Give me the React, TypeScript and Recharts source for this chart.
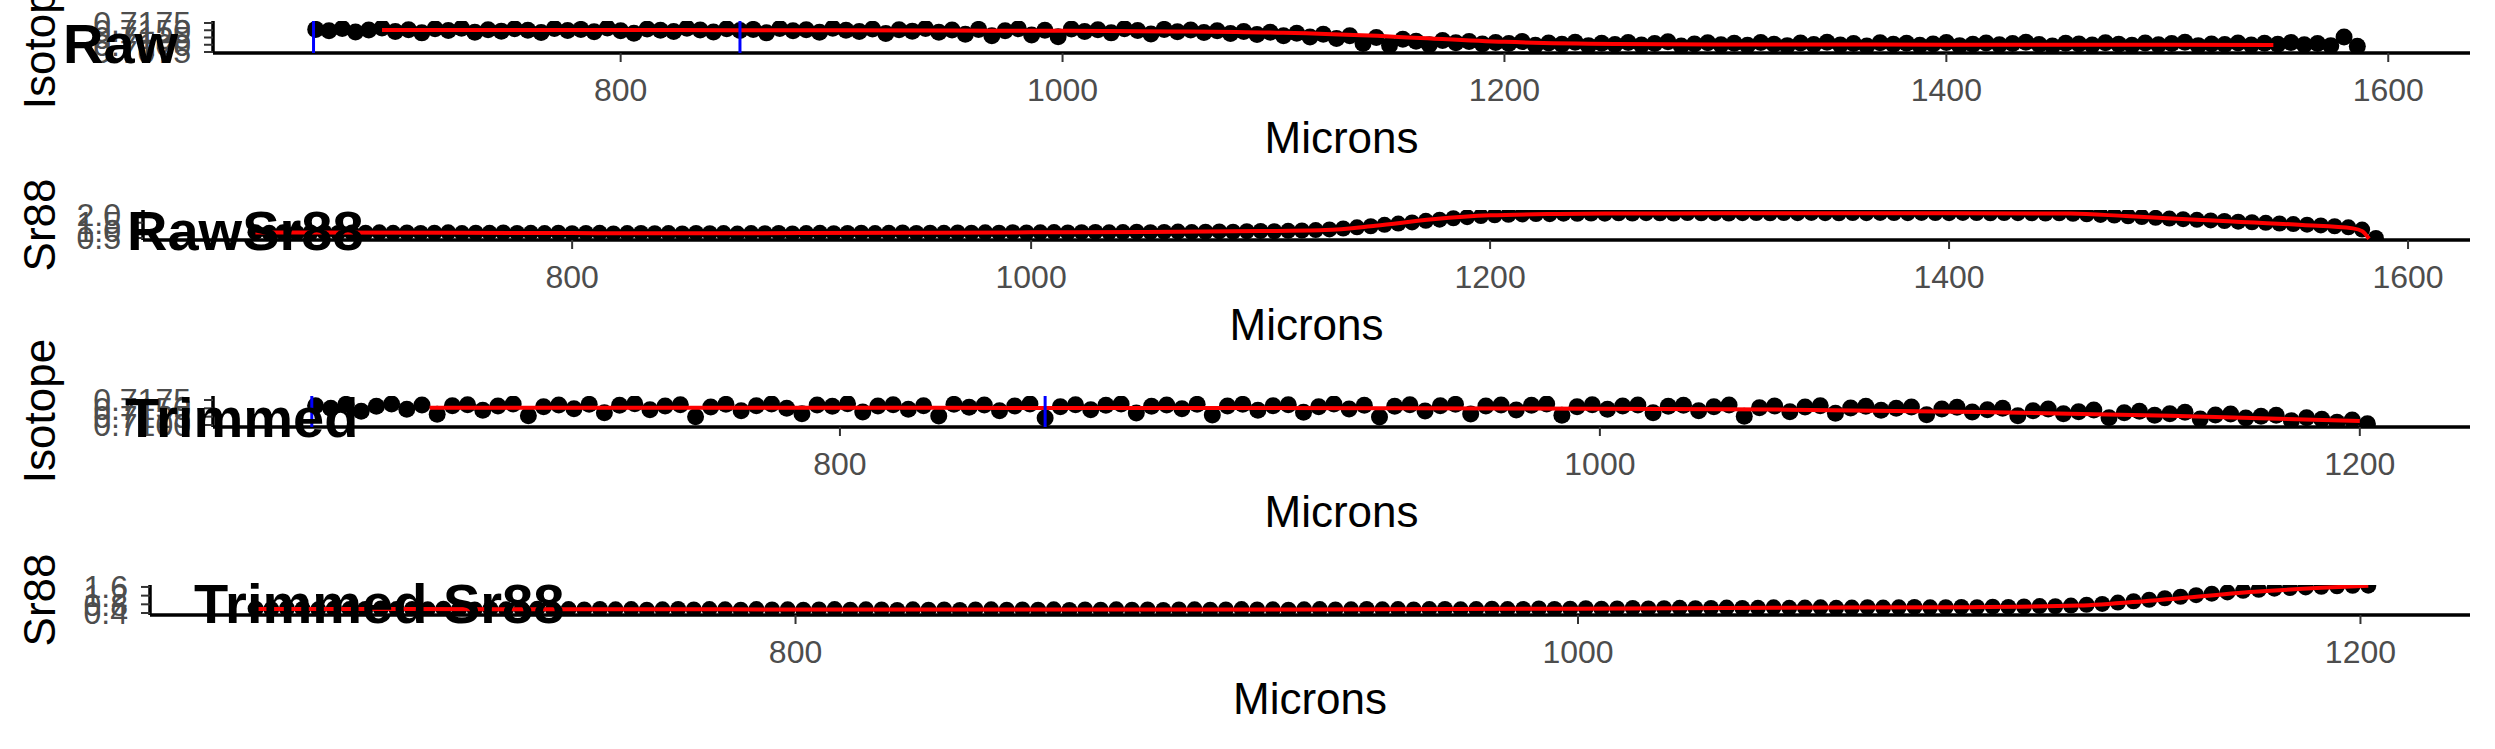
import React from "react";
import { ComposedChart, Line, ReferenceLine, Scatter, XAxis, YAxis, ZAxis } from "recharts";

const FONT = '"Liberation Sans", Arial, Helvetica, sans-serif';

// laser track positions, microns
const RAW_MICRONS = [
  662, 668, 674, 680, 686, 692, 698, 704, 710, 716,
  722, 728, 734, 740, 746, 752, 758, 764, 770, 776,
  782, 788, 794, 800, 806, 812, 818, 824, 830, 836,
  842, 848, 854, 860, 866, 872, 878, 884, 890, 896,
  902, 908, 914, 920, 926, 932, 938, 944, 950, 956,
  962, 968, 974, 980, 986, 992, 998, 1004, 1010, 1016,
  1022, 1028, 1034, 1040, 1046, 1052, 1058, 1064, 1070, 1076,
  1082, 1088, 1094, 1100, 1106, 1112, 1118, 1124, 1130, 1136,
  1142, 1148, 1154, 1160, 1166, 1172, 1178, 1184, 1190, 1196,
  1202, 1208, 1214, 1220, 1226, 1232, 1238, 1244, 1250, 1256,
  1262, 1268, 1274, 1280, 1286, 1292, 1298, 1304, 1310, 1316,
  1322, 1328, 1334, 1340, 1346, 1352, 1358, 1364, 1370, 1376,
  1382, 1388, 1394, 1400, 1406, 1412, 1418, 1424, 1430, 1436,
  1442, 1448, 1454, 1460, 1466, 1472, 1478, 1484, 1490, 1496,
  1502, 1508, 1514, 1520, 1526, 1532, 1538, 1544, 1550, 1556,
  1562, 1568, 1574, 1580, 1586,
];

const RAW_ISOTOPE = [
  0.7153, 0.7148, 0.7156, 0.7144, 0.7151, 0.7158, 0.7146, 0.7152, 0.7141, 0.7155,
  0.7149, 0.7157, 0.7143, 0.7152, 0.7147, 0.7155, 0.715, 0.7142, 0.7156, 0.7149,
  0.7153, 0.7145, 0.7158, 0.7148, 0.714, 0.7154, 0.715, 0.7146, 0.7157, 0.7151,
  0.7144, 0.7155, 0.7149, 0.7153, 0.7141, 0.7156, 0.7148, 0.7152, 0.7143, 0.7157,
  0.715, 0.7146, 0.7154, 0.7139, 0.7152, 0.7147, 0.7156, 0.7143, 0.7151, 0.7136,
  0.7153, 0.7131, 0.7148, 0.7155, 0.7134, 0.715, 0.7128, 0.7154, 0.7146, 0.7152,
  0.7141, 0.7155, 0.7149, 0.7137, 0.7153, 0.7145, 0.7151, 0.7142, 0.7148, 0.7139,
  0.7146, 0.7135, 0.7143, 0.7131, 0.714, 0.7127, 0.7136, 0.7122, 0.7131, 0.7104,
  0.7125, 0.7098, 0.7119, 0.7112, 0.71, 0.7115, 0.7107, 0.7111, 0.7103, 0.7108,
  0.7104, 0.7111, 0.7098, 0.7106, 0.7102, 0.7109, 0.7097, 0.7105, 0.7101, 0.7108,
  0.7099, 0.7104, 0.711, 0.7096, 0.7103, 0.7107, 0.71, 0.7105, 0.7098, 0.7108,
  0.7102, 0.7097, 0.7106, 0.7101, 0.7109, 0.7099, 0.7104, 0.7096, 0.7107, 0.7102,
  0.7105, 0.7098, 0.7103, 0.7108, 0.7097, 0.7102, 0.7106, 0.71, 0.7104, 0.7109,
  0.7101, 0.7096, 0.7105, 0.7103, 0.7099, 0.7107, 0.7102, 0.7098, 0.7106, 0.71,
  0.7104, 0.7109, 0.7097, 0.7103, 0.7101, 0.7106, 0.7099, 0.7105, 0.7102, 0.7108,
  0.71, 0.7104, 0.7097, 0.7127, 0.7095,
];

const RAW_SR88 = [
  0.88, 0.85, 0.87, 0.84, 0.86, 0.88, 0.83, 0.86, 0.85, 0.87,
  0.84, 0.86, 0.83, 0.85, 0.87, 0.82, 0.85, 0.84, 0.86, 0.83,
  0.84, 0.82, 0.85, 0.81, 0.83, 0.84, 0.8, 0.82, 0.83, 0.81,
  0.82, 0.8, 0.83, 0.81, 0.82, 0.79, 0.82, 0.81, 0.83, 0.8,
  0.82, 0.84, 0.81, 0.83, 0.85, 0.82, 0.84, 0.86, 0.83, 0.85,
  0.84, 0.86, 0.85, 0.87, 0.85, 0.88, 0.86, 0.87, 0.89, 0.86,
  0.88, 0.9, 0.87, 0.89, 0.91, 0.88, 0.9, 0.92, 0.89, 0.91,
  0.93, 0.91, 0.94, 0.96, 0.94, 0.97, 0.99, 1.02, 1.06, 1.12,
  1.2, 1.27, 1.36, 1.44, 1.52, 1.62, 1.7, 1.79, 1.86, 1.93,
  1.98, 2.02, 2.04, 2.07, 2.06, 2.09, 2.08, 2.1, 2.09, 2.11,
  2.1, 2.12, 2.11, 2.1, 2.13, 2.11, 2.12, 2.1, 2.12, 2.13,
  2.11, 2.13, 2.12, 2.14, 2.12, 2.11, 2.13, 2.12, 2.14, 2.13,
  2.12, 2.14, 2.13, 2.12, 2.14, 2.13, 2.11, 2.13, 2.12, 2.11,
  2.1, 2.11, 2.08, 2.05, 2.01, 1.97, 1.92, 1.87, 1.82, 1.77,
  1.73, 1.69, 1.65, 1.61, 1.57, 1.53, 1.49, 1.45, 1.41, 1.37,
  1.32, 1.27, 1.2, 1.05, 0.5,
];

const TRIM_MICRONS = [
  662, 666, 670, 674, 678, 682, 686, 690, 694, 698,
  702, 706, 710, 714, 718, 722, 726, 730, 734, 738,
  742, 746, 750, 754, 758, 762, 766, 770, 774, 778,
  782, 786, 790, 794, 798, 802, 806, 810, 814, 818,
  822, 826, 830, 834, 838, 842, 846, 850, 854, 858,
  862, 866, 870, 874, 878, 882, 886, 890, 894, 898,
  902, 906, 910, 914, 918, 922, 926, 930, 934, 938,
  942, 946, 950, 954, 958, 962, 966, 970, 974, 978,
  982, 986, 990, 994, 998, 1002, 1006, 1010, 1014, 1018,
  1022, 1026, 1030, 1034, 1038, 1042, 1046, 1050, 1054, 1058,
  1062, 1066, 1070, 1074, 1078, 1082, 1086, 1090, 1094, 1098,
  1102, 1106, 1110, 1114, 1118, 1122, 1126, 1130, 1134, 1138,
  1142, 1146, 1150, 1154, 1158, 1162, 1166, 1170, 1174, 1178,
  1182, 1186, 1190, 1194, 1198, 1202,
];

const TRIM_ISOTOPE = [
  0.7158, 0.715, 0.7162, 0.7141, 0.7156, 0.7163, 0.7147, 0.716, 0.7132, 0.7158,
  0.7161, 0.7144, 0.7157, 0.7163, 0.7128, 0.7155, 0.716, 0.7149, 0.7162, 0.7137,
  0.7159, 0.7164, 0.7146, 0.7157, 0.7161, 0.7125, 0.7154, 0.7162, 0.7143, 0.7158,
  0.7163, 0.715, 0.7134, 0.716, 0.7156, 0.7164, 0.7139, 0.7157, 0.7161, 0.7147,
  0.7158, 0.7127, 0.7162, 0.7153, 0.716, 0.7143, 0.7157, 0.7163, 0.7121, 0.7155,
  0.7161, 0.7146, 0.7159, 0.7163, 0.7136, 0.7156, 0.716, 0.7149, 0.7162, 0.713,
  0.7157, 0.7162, 0.7144, 0.7158, 0.7161, 0.7138, 0.7155, 0.7163, 0.7148, 0.7159,
  0.7124, 0.7156, 0.7161, 0.7142, 0.7158, 0.7162, 0.7133, 0.7157, 0.716, 0.7145,
  0.7159, 0.7163, 0.7129, 0.7155, 0.7161, 0.7147, 0.7157, 0.716, 0.7137, 0.7156,
  0.7159, 0.7143, 0.7155, 0.716, 0.7126, 0.7152, 0.7157, 0.714, 0.7154, 0.7158,
  0.7135, 0.7151, 0.7156, 0.7144, 0.715, 0.7154, 0.7131, 0.7148, 0.7153, 0.7139,
  0.7146, 0.715, 0.7128, 0.7143, 0.7148, 0.7134, 0.714, 0.7145, 0.7122, 0.7137,
  0.7141, 0.7129, 0.7134, 0.7138, 0.7118, 0.713, 0.7133, 0.7121, 0.7126, 0.7129,
  0.7113, 0.7122, 0.7117, 0.7108, 0.7115, 0.7104,
];

const TRIM_SR88 = [
  0.6, 0.58, 0.61, 0.59, 0.57, 0.6, 0.58, 0.59, 0.61, 0.58,
  0.59, 0.57, 0.6, 0.58, 0.56, 0.59, 0.57, 0.58, 0.6, 0.57,
  0.58, 0.56, 0.59, 0.57, 0.58, 0.55, 0.57, 0.59, 0.56, 0.58,
  0.57, 0.55, 0.58, 0.56, 0.57, 0.55, 0.56, 0.58, 0.55, 0.57,
  0.56, 0.54, 0.57, 0.55, 0.56, 0.54, 0.56, 0.57, 0.55, 0.56,
  0.55, 0.57, 0.54, 0.56, 0.55, 0.57, 0.55, 0.56, 0.54, 0.56,
  0.57, 0.55, 0.56, 0.58, 0.56, 0.57, 0.55, 0.57, 0.58, 0.56,
  0.57, 0.59, 0.57, 0.58, 0.56, 0.58, 0.59, 0.57, 0.58, 0.6,
  0.58, 0.59, 0.61, 0.59, 0.6, 0.62, 0.6, 0.61, 0.63, 0.61,
  0.62, 0.64, 0.62, 0.63, 0.65, 0.63, 0.64, 0.66, 0.64, 0.65,
  0.66, 0.64, 0.65, 0.67, 0.65, 0.66, 0.68, 0.66, 0.67, 0.68,
  0.67, 0.69, 0.68, 0.7, 0.72, 0.71, 0.74, 0.78, 0.82, 0.88,
  0.94, 1.01, 1.08, 1.15, 1.22, 1.29, 1.35, 1.42, 1.47, 1.52,
  1.55, 1.58, 1.61, 1.63, 1.65, 1.66,
];

// smoothed fits (red)
const RAW_ISOTOPE_FIT = [
  [692, 0.7151], [750, 0.7151], [800, 0.7151], [850, 0.715], [900, 0.715], [950, 0.7149],
  [1000, 0.7148], [1050, 0.7146], [1100, 0.7141], [1150, 0.7128], [1200, 0.711], [1250, 0.7103],
  [1300, 0.7101], [1350, 0.7101], [1400, 0.71], [1450, 0.71], [1500, 0.71], [1548, 0.7099],
];
const RAW_SR88_FIT = [
  [662, 0.86], [750, 0.84], [800, 0.82], [850, 0.81], [900, 0.82], [950, 0.84], [1000, 0.87],
  [1050, 0.9], [1100, 0.95], [1128, 1.02], [1150, 1.3], [1175, 1.72], [1200, 1.98], [1230, 2.07],
  [1260, 2.1], [1300, 2.11], [1350, 2.12], [1400, 2.12], [1453, 2.1], [1477, 1.93], [1510, 1.67],
  [1554, 1.35], [1576, 1.13], [1580, 0.95], [1583, 0.45],
];
const TRIM_ISOTOPE_FIT = [
  [692, 0.7152], [750, 0.7152], [800, 0.7152], [850, 0.7151], [900, 0.7151], [950, 0.715],
  [1000, 0.7149], [1050, 0.7146], [1100, 0.7139], [1150, 0.7128], [1200, 0.7112],
];
const TRIM_SR88_FIT = [
  [662, 0.59], [700, 0.58], [750, 0.575], [800, 0.565], [850, 0.56], [900, 0.56], [950, 0.575],
  [1000, 0.6], [1050, 0.64], [1100, 0.67], [1128, 0.74], [1147, 0.98], [1173, 1.38], [1190, 1.56],
  [1202, 1.66],
];

const CUTS = [661, 854];
const RAW_X_TICKS = [800, 1000, 1200, 1400, 1600];
const TRIM_X_TICKS = [800, 1000, 1200];
const ISOTOPE_TICKS_RAW = [0.7075, 0.71, 0.7125, 0.715, 0.7175];
const ISOTOPE_TICKS_TRIM = [0.71, 0.7125, 0.715, 0.7175];
const SR88_TICKS_RAW = [0.5, 1.0, 1.5, 2.0];
const SR88_TICKS_TRIM = [0.4, 0.8, 1.2, 1.6];

const zip = (xs: number[], ys: number[]) => xs.map((x, i) => ({ x, y: ys[i] }));
const pairs = (p: number[][]) => p.map(([x, y]) => ({ x, y }));

const PLOT_RIGHT = 2470;

// dot radius in px -> symbol area for ZAxis
const area = (r: number) => Math.PI * r * r;

const panels = [
  {
    key: "raw", top: 0, height: 187, plotTop: 21, plotH: 32, plotLeft: 213, r: 8.5,
    xDomain: [615.5, 1637], xTicks: RAW_X_TICKS, yDomain: [0.70716, 0.71819], yTicks: ISOTOPE_TICKS_RAW,
    digits: 4, points: zip(RAW_MICRONS, RAW_ISOTOPE), fit: pairs(RAW_ISOTOPE_FIT), cuts: CUTS,
  },
  {
    key: "rawsr", top: 187, height: 187, plotTop: 23, plotH: 30, plotLeft: 143, r: 8,
    xDomain: [613, 1627], xTicks: RAW_X_TICKS, yDomain: [0.37, 2.33], yTicks: SR88_TICKS_RAW,
    digits: 1, points: zip(RAW_MICRONS, RAW_SR88), fit: pairs(RAW_SR88_FIT), cuts: [],
  },
  {
    key: "trim", top: 374, height: 187, plotTop: 22, plotH: 31, plotLeft: 213, r: 8.5,
    xDomain: [635, 1229], xTicks: TRIM_X_TICKS, yDomain: [0.7094, 0.7187], yTicks: ISOTOPE_TICKS_TRIM,
    digits: 4, points: zip(TRIM_MICRONS, TRIM_ISOTOPE), fit: pairs(TRIM_ISOTOPE_FIT), cuts: CUTS,
  },
  {
    key: "trimsr", top: 561, height: 188, plotTop: 24, plotH: 30, plotLeft: 150, r: 8,
    xDomain: [635, 1228], xTicks: TRIM_X_TICKS, yDomain: [0.308, 1.69], yTicks: SR88_TICKS_TRIM,
    digits: 1, points: zip(TRIM_MICRONS, TRIM_SR88), fit: pairs(TRIM_SR88_FIT), cuts: [],
  },
];

const tickStyle = { fill: "#4D4D4D", fontSize: 32, fontFamily: FONT };

function Panel({ p }: { p: (typeof panels)[number] }) {
  const s = area(p.r);
  return (
    <div style={{ position: "absolute", left: 0, top: p.top, width: 2495, height: p.height }}>
      <ComposedChart
        width={2495}
        height={p.height}
        margin={{ top: p.plotTop, right: 2495 - PLOT_RIGHT, bottom: 0, left: 0 }}
      >
        <XAxis
          type="number"
          dataKey="x"
          domain={p.xDomain}
          ticks={p.xTicks}
          interval={0}
          allowDataOverflow
          height={p.height - p.plotTop - p.plotH}
          tick={tickStyle}
          tickSize={9}
          tickMargin={16}
          tickLine={{ stroke: "#333", strokeWidth: 2 }}
          axisLine={{ stroke: "#000", strokeWidth: 3.5 }}
        />
        <YAxis
          type="number"
          dataKey="y"
          domain={p.yDomain}
          ticks={p.yTicks}
          interval={0}
          allowDataOverflow
          width={p.plotLeft}
          tick={tickStyle}
          tickSize={9}
          tickMargin={13}
          tickFormatter={(v: number) => v.toFixed(p.digits)}
          tickLine={{ stroke: "#333", strokeWidth: 2 }}
          axisLine={{ stroke: "#000", strokeWidth: 3.5 }}
        />
        <ZAxis type="number" range={[s, s]} />
        <Scatter data={p.points} dataKey="y" fill="#000" shape="circle" isAnimationActive={false} zIndex={300} />
        <Line
          data={p.fit}
          dataKey="y"
          type="monotone"
          stroke="#FF0000"
          strokeWidth={4}
          dot={false}
          activeDot={false}
          isAnimationActive={false}
          zIndex={700}
        />
        {p.cuts.map((c) => (
          <ReferenceLine key={c} x={c} stroke="#0000FF" strokeWidth={3} zIndex={800} />
        ))}
      </ComposedChart>
    </div>
  );
}

const TITLES = [
  { text: "Raw", x: 63, y: 63 },
  { text: "RawSr88", x: 127, y: 250 },
  { text: "Trimmed", x: 125, y: 437 },
  { text: "Trimmed Sr88", x: 194, y: 623 },
];
const Y_TITLES = [
  { text: "Isotope", y: 37 },
  { text: "Sr88", y: 225 },
  { text: "Isotope", y: 411 },
  { text: "Sr88", y: 600 },
];
const MICRONS_POS = [
  { x: (213 + PLOT_RIGHT) / 2, y: 153 },
  { x: (143 + PLOT_RIGHT) / 2, y: 340 },
  { x: (213 + PLOT_RIGHT) / 2, y: 527 },
  { x: (150 + PLOT_RIGHT) / 2, y: 714 },
];

export default function App() {
  return (
    <div style={{ position: "absolute", left: 0, top: 0, width: 2495, height: 749, background: "#fff", overflow: "hidden" }}>
      {panels.map((p) => (
        <Panel key={p.key} p={p} />
      ))}
      <svg width={2495} height={749} style={{ position: "absolute", left: 0, top: 0, pointerEvents: "none" }}>
        {Y_TITLES.map((t, i) => (
          <text
            key={i}
            transform={`translate(55, ${t.y}) rotate(-90)`}
            textAnchor="middle"
            fontFamily={FONT}
            fontSize={44}
            fill="#000"
          >
            {t.text}
          </text>
        ))}
        {MICRONS_POS.map((m, i) => (
          <text key={i} x={m.x} y={m.y} textAnchor="middle" fontFamily={FONT} fontSize={44} fill="#000">
            Microns
          </text>
        ))}
        {TITLES.map((t) => (
          <text key={t.text} x={t.x} y={t.y} fontFamily={FONT} fontSize={56} fontWeight="bold" fill="#000">
            {t.text}
          </text>
        ))}
      </svg>
    </div>
  );
}
